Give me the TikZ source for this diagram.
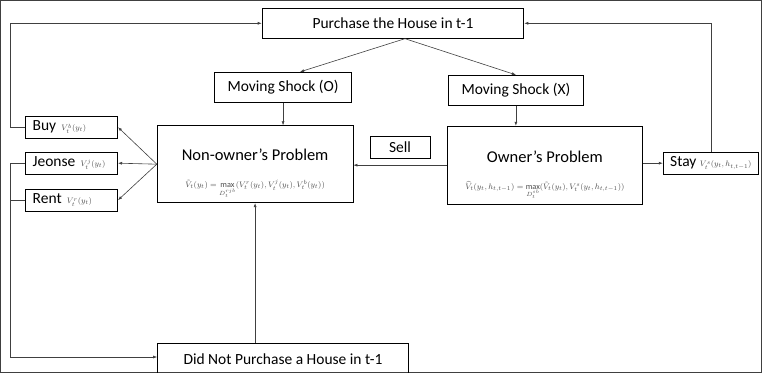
\documentclass[tikz,border=0pt]{standalone}
\usepackage{amsmath,amssymb}
\usepackage{fontspec}
\setmainfont{Carlito}
\usepackage{tikz}
\usetikzlibrary{calc, positioning, arrows.meta}
\def\railx{10}
\def\headlift{\rule{0pt}{31pt}}
\tikzstyle{every path}=[draw=black!75, line width=0.6pt]
\tikzstyle{box}=[draw=black, line width=0.8pt, rectangle, inner sep=0pt, font=\fontsize{15.5}{17}\selectfont]
\tikzstyle{state box}=[box, minimum width=262pt, minimum height=30pt]
\tikzstyle{shock box}=[box, minimum width=137pt, minimum height=30pt]
\tikzstyle{problem box}=[box, minimum width=196pt, minimum height=77pt, align=center, font=\fontsize{16.5}{18}\selectfont]
\tikzstyle{choice box}=[box, minimum width=92pt, minimum height=22pt, anchor=west, inner xsep=7pt]
\tikzstyle{link}=[-{Latex[length=4pt,width=3pt]}]

\begin{document}
\begin{tikzpicture}[x=1pt, y=-1pt]
\useasboundingbox (0,0) rectangle (762,372);

% Draw the top and bottom states
\node[state box] (buy-prev) at (393,23) {Purchase the House in t-1};
\node[state box, minimum width=251pt, minimum height=31pt, anchor=north west] (nobuy-prev) at (157,343) {\raisebox{-4pt}{Did Not Purchase a House in t-1}};

% Draw the moving shocks
\node[shock box] (shock-o) at (283,87) {Moving Shock (O)};
\node[shock box, minimum width=136pt] (shock-x) at (516,90) {Moving Shock (X)};

% Draw the two problems
\node[problem box] (nonowner) at (255,164) {\headlift Non-owner's Problem\\[9pt]
  {\color{black!70}\fontsize{8.3}{9}\selectfont$\tilde V_t(y_t)=\max\limits_{D_t^{rjb}}(V_t^r(y_t),V_t^j(y_t),V_t^b(y_t))$}};
\node[problem box, minimum width=195pt, minimum height=78pt] (owner) at (545,165) {\headlift Owner's Problem\\[9pt]
  {\color{black!70}\fontsize{8.3}{9}\selectfont$\widehat V_t(y_t,h_{t,t-1})=\max\limits_{D_t^{sb}}(\tilde V_t(y_t),V_t^s(y_t,h_{t,t-1}))$}};
\node[box, minimum width=60pt, minimum height=22pt] (sell) at (400,147) {Sell};

% Draw the choices
\foreach \name / \lbl / \up / \y in {buy/Buy/b/127, jeonse/Jeonse/j/163, rent/Rent/r/200}
  \node[choice box, text width=78pt] (\name) at (25,\y) {\lbl\ {\color{black!70}\fontsize{8}{9}\selectfont$V_t^{\up}(y_t)$}};
\node[choice box, anchor=west] (stay) at (663,163) {Stay {\color{black!70}\fontsize{8.5}{9}\selectfont$V_t^s(y_t,h_{t,t-1})$}};

% Connect the shocks
\draw[link] (buy-prev.south) ++(12,0) coordinate (split) -- ($(shock-o.north)+(17,0)$);
\draw[link] (split) -- (shock-x.north);
\draw[link] (shock-o) -- (shock-o |- nonowner.north);
\draw[link] (shock-x) -- (shock-x |- owner.north);
\draw[link] (owner) -- (owner.west -| nonowner.east);
\draw[link] (owner.east |- stay) -- (stay);

% Connect the non-owner problem with every choice
\foreach \dest in {buy,jeonse,rent}
  \draw[link] (nonowner.west) -- (\dest.east);

% Loop back to the states
\draw[link] (buy.west) -- (\railx,127) -- (\railx,23) -- (buy-prev.west);
\draw[link] (stay.north) |- (buy-prev.east);
\draw[link] (jeonse.west) -- (\railx,163) |- ($(nobuy-prev.north west)+(0,14)$);
\draw (rent.west) -- (\railx,200);
\draw[link] (nobuy-prev.north -| nonowner.south) -- (nonowner.south);
\end{tikzpicture}
\end{document}
